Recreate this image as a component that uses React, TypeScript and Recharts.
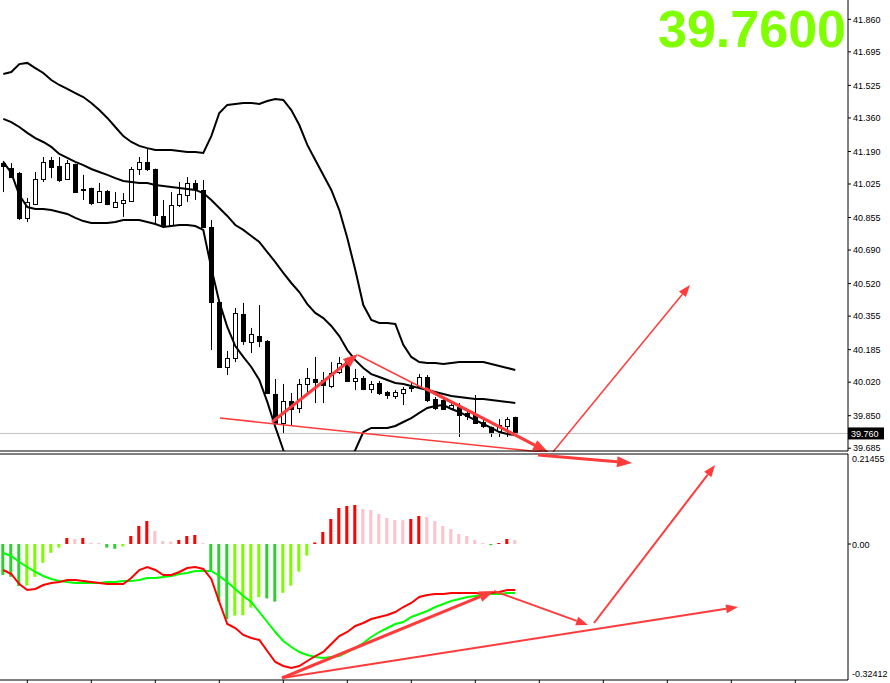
import { ComposedChart, Bar, Line, XAxis, YAxis, ReferenceLine, Cell } from 'recharts';

// candles, oldest first
const candleOpen = [
  41.131, 41.106, 41.081, 40.853, 40.924, 41.050, 41.147, 41.116, 41.050, 41.126,
  41.000, 41.005, 40.934, 40.989, 40.908, 40.929, 40.939, 41.101, 41.137, 41.101,
  40.863, 40.817, 40.918, 40.969, 41.030, 40.995, 40.807, 40.427, 40.097, 40.143,
  40.366, 40.224, 40.254, 40.229, 39.960, 39.813, 39.925, 39.889, 40.011, 40.036,
  40.031, 40.001, 40.072, 40.127, 40.026, 40.041, 39.985, 40.016, 39.970, 39.950,
  39.965, 39.996, 40.001, 40.046, 39.935, 39.930, 39.889, 39.894, 39.864, 39.859,
  39.818, 39.793, 39.772, 39.798, 39.843,
];
const candleHigh = [
  41.142, 41.131, 41.086, 40.954, 41.086, 41.162, 41.162, 41.162, 41.147, 41.128,
  41.071, 41.007, 41.030, 40.995, 40.984, 40.979, 41.111, 41.162, 41.202, 41.103,
  40.944, 40.984, 41.035, 41.060, 41.045, 41.045, 40.842, 40.432, 40.178, 40.396,
  40.422, 40.295, 40.411, 40.234, 40.036, 40.011, 39.965, 40.036, 40.092, 40.148,
  40.072, 40.122, 40.148, 40.143, 40.087, 40.051, 40.026, 40.026, 39.975, 39.980,
  39.996, 40.021, 40.061, 40.056, 39.945, 39.940, 39.914, 39.914, 39.879, 39.955,
  39.828, 39.795, 39.833, 39.843, 39.845,
];
const candleLow = [
  40.984, 41.055, 40.842, 40.832, 40.918, 41.035, 41.055, 41.035, 41.045, 40.982,
  40.944, 40.918, 40.929, 40.918, 40.903, 40.858, 40.934, 41.071, 41.091, 40.817,
  40.802, 40.807, 40.908, 40.934, 40.944, 40.802, 40.183, 40.092, 40.056, 40.122,
  40.209, 40.168, 40.198, 39.960, 39.803, 39.762, 39.803, 39.864, 39.965, 39.914,
  39.914, 39.990, 40.061, 40.021, 39.980, 39.980, 39.965, 39.955, 39.935, 39.935,
  39.904, 39.970, 39.990, 39.919, 39.879, 39.879, 39.879, 39.742, 39.828, 39.810,
  39.788, 39.742, 39.742, 39.742, 39.752,
];
const candleClose = [
  41.116, 41.060, 40.853, 40.934, 41.050, 41.137, 41.111, 41.045, 41.131, 40.984,
  40.995, 40.929, 40.989, 40.924, 40.934, 40.944, 41.101, 41.137, 41.101, 40.868,
  40.817, 40.918, 40.974, 41.030, 41.000, 40.807, 40.427, 40.097, 40.143, 40.371,
  40.229, 40.264, 40.229, 39.965, 39.813, 39.925, 39.884, 40.011, 40.041, 40.021,
  40.006, 40.066, 40.117, 40.026, 40.041, 39.985, 40.011, 39.965, 39.955, 39.970,
  39.985, 39.990, 40.046, 39.930, 39.889, 39.884, 39.904, 39.854, 39.848, 39.813,
  39.798, 39.762, 39.803, 39.833, 39.760,
];

// bollinger bands
const bbUpper = [
  41.583, 41.593, 41.633, 41.639, 41.613, 41.588, 41.552, 41.527, 41.507, 41.486,
  41.466, 41.436, 41.400, 41.360, 41.314, 41.268, 41.238, 41.218, 41.207, 41.197,
  41.197, 41.197, 41.192, 41.187, 41.187, 41.182, 41.268, 41.385, 41.426, 41.431,
  41.436, 41.436, 41.431, 41.446, 41.456, 41.451, 41.400, 41.324, 41.223, 41.147,
  41.071, 40.995, 40.893, 40.751, 40.589, 40.411, 40.335, 40.320, 40.320, 40.315,
  40.209, 40.148, 40.122, 40.117, 40.117, 40.112, 40.117, 40.122, 40.122, 40.122,
  40.122, 40.112, 40.102, 40.092, 40.082,
];
const bbMiddle = [
  41.355, 41.339, 41.314, 41.284, 41.258, 41.238, 41.213, 41.177, 41.157, 41.137,
  41.121, 41.101, 41.086, 41.071, 41.055, 41.040, 41.035, 41.030, 41.030, 41.020,
  41.015, 41.010, 41.005, 41.000, 40.995, 40.979, 40.944, 40.903, 40.863, 40.817,
  40.792, 40.761, 40.731, 40.680, 40.629, 40.574, 40.523, 40.477, 40.416, 40.371,
  40.345, 40.305, 40.254, 40.183, 40.132, 40.092, 40.061, 40.046, 40.031, 40.016,
  40.011, 40.001, 39.990, 39.980, 39.970, 39.960, 39.950, 39.945, 39.940, 39.935,
  39.935, 39.930, 39.925, 39.920, 39.914,
];
const bbLower = [
  41.137, 41.081, 40.969, 40.908, 40.898, 40.898, 40.893, 40.883, 40.873, 40.853,
  40.837, 40.827, 40.827, 40.827, 40.832, 40.842, 40.842, 40.842, 40.832, 40.822,
  40.807, 40.812, 40.817, 40.817, 40.812, 40.792, 40.599, 40.427, 40.300, 40.203,
  40.148, 40.097, 40.031, 39.920, 39.793, 39.676, 39.575, 39.499, 39.463, 39.453,
  39.463, 39.499, 39.549, 39.615, 39.676, 39.767, 39.788, 39.788, 39.788, 39.798,
  39.818, 39.838, 39.864, 39.889, 39.899, 39.904, 39.884, 39.869, 39.848, 39.828,
  39.808, 39.788, 39.767, 39.757, 39.752,
];

// MACD window
const macdHist = [
  -0.0775, -0.082, -0.105, -0.104, -0.082, -0.047, -0.022, -0.009, 0.015, 0.0125,
  0.015, 0.003, 0.0025, -0.009, -0.012, -0.006, 0.02, 0.045, 0.0575, 0.0325,
  0.0075, 0.006, 0.01, 0.02, 0.0225, 0.002, -0.065, -0.144, -0.188, -0.179,
  -0.178, -0.159, -0.133, -0.136, -0.144, -0.122, -0.104, -0.069, -0.029, 0.004,
  0.03, 0.0625, 0.09, 0.095, 0.0975, 0.0875, 0.085, 0.075, 0.065, 0.06,
  0.0595, 0.0625, 0.07, 0.0675, 0.0575, 0.045, 0.0375, 0.025, 0.02, 0.01,
  0.0025, -0.003, 0.0025, 0.0125, 0.01,
];
const macdMain = [
  -0.065, -0.075, -0.10, -0.115, -0.1125, -0.1025, -0.0975, -0.095, -0.09, -0.09,
  -0.0925, -0.095, -0.0975, -0.10, -0.10, -0.10, -0.085, -0.065, -0.0575, -0.065,
  -0.0775, -0.0775, -0.07, -0.06, -0.0575, -0.0625, -0.0875, -0.145, -0.20, -0.21,
  -0.2275, -0.235, -0.24, -0.2675, -0.295, -0.305, -0.31, -0.305, -0.2925, -0.28,
  -0.27, -0.25, -0.23, -0.22, -0.205, -0.1975, -0.1875, -0.1825, -0.1775, -0.17,
  -0.1575, -0.1475, -0.1325, -0.1275, -0.125, -0.125, -0.1225, -0.1225, -0.1225, -0.1225,
  -0.125, -0.1225, -0.12, -0.115, -0.115,
];
const macdSignal = [
  -0.0225, -0.03, -0.045, -0.0575, -0.07, -0.08, -0.0875, -0.0925, -0.095, -0.0975,
  -0.0975, -0.0975, -0.0975, -0.095, -0.095, -0.0925, -0.0925, -0.09, -0.085, -0.085,
  -0.0825, -0.08, -0.075, -0.0725, -0.0675, -0.0675, -0.0675, -0.08, -0.095, -0.1125,
  -0.13, -0.145, -0.17, -0.195, -0.22, -0.2425, -0.2575, -0.27, -0.2775, -0.2825,
  -0.285, -0.2825, -0.28, -0.27, -0.26, -0.2475, -0.2325, -0.22, -0.21, -0.20,
  -0.195, -0.1825, -0.175, -0.1675, -0.1575, -0.15, -0.1425, -0.1375, -0.1325, -0.13,
  -0.1275, -0.125, -0.125, -0.1225, -0.1225,
];

const priceTicks = [41.86, 41.695, 41.525, 41.36, 41.19, 41.025, 40.855, 40.69, 40.52, 40.355, 40.185, 40.02, 39.85, 39.685];
const macdTicks = [0.21455, 0, -0.32412];
const timeTicks = [3, 11, 19, 27, 35, 43, 51, 59, 67, 75, 83, 91, 99];
const lastPrice = 39.76;
const bigLabel = '39.7600';

// hand drawn trend lines: [x1, y1, x2, y2, width, arrowhead]
const priceArrows: [number, number, number, number, number, boolean][] = [
  [27.09, 39.838, 68.34, 39.661, 1.5, false],
  [33.59, 39.818, 44.34, 40.163, 3, true],
  [44.34, 40.158, 68.09, 39.666, 1.5, false],
  [52.71, 39.99, 68.09, 39.666, 3, true],
  [68.71, 39.666, 85.84, 40.513, 1.5, true],
];
const macdArrows: [number, number, number, number, number, boolean][] = [
  [66.84, 0.2225, 78.59, 0.2025, 3, true],
  [34.84, -0.335, 61.34, -0.1175, 3, true],
  [34.84, -0.335, 91.84, -0.1575, 2, true],
  [61.34, -0.1175, 73.09, -0.2025, 2, true],
  [73.84, -0.1975, 88.97, 0.1975, 2, true],
];

const X_DOMAIN = [-0.4125, 105.5875];
const ARROW = '#ff3b3b';
const FONT = '"Liberation Sans", Arial, sans-serif';

const priceData = candleOpen.map((o, i) => ({
  i,
  open: o,
  high: candleHigh[i],
  low: candleLow[i],
  close: candleClose[i],
  upper: bbUpper[i],
  middle: bbMiddle[i],
  lower: bbLower[i],
}));

const macdData = macdHist.map((h, i) => ({ i, hist: h, main: macdMain[i], signal: macdSignal[i] }));

function histColor(i: number) {
  const v = macdHist[i];
  const prev = i > 0 ? macdHist[i - 1] : Infinity;
  if (v >= 0) return v >= prev ? '#ff0000' : '#ffc0cb';
  return v < prev ? '#32cd32' : '#7cfc00';
}

const Candle = (props: any) => {
  const { x, y, width, height, payload } = props;
  const top0 = Math.min(y, y + height);
  const h = Math.abs(height);
  const span = payload.high - payload.low || 1;
  const py = (v: number) => top0 + ((payload.high - v) / span) * h;
  const cx = Math.round(x + width / 2) + 0.5;
  const bTop = Math.round(py(Math.max(payload.open, payload.close))) + 0.5;
  const bBot = Math.round(py(Math.min(payload.open, payload.close))) + 0.5;
  const up = payload.close >= payload.open;
  return (
    <g>
      <line x1={cx} x2={cx} y1={top0} y2={top0 + h} stroke="#000" strokeWidth={1} />
      <rect x={cx - 2} y={bTop} width={4} height={Math.max(bBot - bTop, 1)} fill={up ? '#fff' : '#000'} stroke="#000" strokeWidth={1} />
    </g>
  );
};

const arrowShape = (w: number, head: boolean) => (p: any) => {
  const x1 = Number(p.x1), y1 = Number(p.y1), x2 = Number(p.x2), y2 = Number(p.y2);
  const len = Math.hypot(x2 - x1, y2 - y1) || 1;
  const ux = (x2 - x1) / len;
  const uy = (y2 - y1) / len;
  const hl = w > 2 ? 15 : 12;
  const hw = w > 2 ? 5.5 : 4.5;
  const bx = x2 - ux * hl;
  const by = y2 - uy * hl;
  return (
    <g>
      <line x1={x1} y1={y1} x2={head ? bx : x2} y2={head ? by : y2} stroke={ARROW} strokeWidth={w} />
      {head && (
        <polygon
          points={`${x2},${y2} ${bx - uy * hw},${by + ux * hw} ${bx + uy * hw},${by - ux * hw}`}
          fill={ARROW}
        />
      )}
    </g>
  );
};

const LastPriceLabel = (p: any) => {
  const vb = p.viewBox;
  const right = vb.x + vb.width;
  return (
    <g>
      <rect x={right} y={vb.y - 6} width={36} height={12} fill="#000" />
      <text x={right + 3} y={vb.y + 3.5} fill="#fff" fontSize={9} fontFamily={FONT}>
        {lastPrice.toFixed(3)}
      </text>
    </g>
  );
};

const MacdTick = (p: any) => {
  const v = p.payload.value;
  return (
    <g>
      {v === 0 && <line x1={p.x - 5} x2={p.x - 2} y1={p.y} y2={p.y} stroke="#000" />}
      <text x={p.x - 1} y={p.y + 3.5} fontSize={9} fontFamily={FONT} fill="#000">
        {v === 0 ? '0.00' : v.toFixed(5)}
      </text>
    </g>
  );
};

export default function App() {
  return (
    <div style={{ position: 'absolute', left: 0, top: 0, width: 890, height: 683, background: '#fff', overflow: 'hidden' }}>
      <ComposedChart width={890} height={452} data={priceData} margin={{ top: 0, right: 0, left: 0, bottom: 0 }}>
        <XAxis dataKey="i" type="number" domain={X_DOMAIN} height={1} tick={false} tickLine={false} axisLine={{ stroke: '#000' }} />
        <YAxis
          orientation="right"
          type="number"
          domain={[39.671, 41.958]}
          allowDataOverflow
          ticks={priceTicks}
          interval={0}
          width={42}
          tickSize={3}
          tickMargin={2}
          tickFormatter={(v: number) => v.toFixed(3)}
          tick={{ fontSize: 9, fill: '#000', fontFamily: FONT }}
          tickLine={{ stroke: '#000' }}
          axisLine={{ stroke: '#000' }}
        />
        <ReferenceLine y={lastPrice} stroke="#c0c0c0" strokeWidth={1} label={LastPriceLabel} />
        <Bar dataKey={(d: any) => [d.low, d.high]} barSize={5} shape={Candle} isAnimationActive={false} />
        <Line dataKey="upper" type="linear" stroke="#000" strokeWidth={2} dot={false} activeDot={false} isAnimationActive={false} />
        <Line dataKey="middle" type="linear" stroke="#000" strokeWidth={2} dot={false} activeDot={false} isAnimationActive={false} />
        <Line dataKey="lower" type="linear" stroke="#000" strokeWidth={2} dot={false} activeDot={false} isAnimationActive={false} />
        {priceArrows.map((a, k) => (
          <ReferenceLine
            key={`pa-${k}`}
            segment={[{ x: a[0], y: a[1] }, { x: a[2], y: a[3] }]}
            ifOverflow="visible"
            shape={arrowShape(a[4], a[5])}
          />
        ))}
      </ComposedChart>

      <div style={{ position: 'absolute', top: 452, left: 0 }}>
        <ComposedChart width={890} height={231} data={macdData} margin={{ top: 2, right: 0, left: 0, bottom: 0 }}>
          <XAxis
            dataKey="i"
            type="number"
            domain={X_DOMAIN}
            ticks={timeTicks}
            interval={0}
            height={3}
            tickSize={3}
            tick={() => <g />}
            tickLine={{ stroke: '#000' }}
            axisLine={{ stroke: '#000' }}
          />
          <YAxis
            orientation="right"
            type="number"
            domain={[-0.34, 0.225]}
            allowDataOverflow
            ticks={macdTicks}
            interval={0}
            width={42}
            tickSize={3}
            tickMargin={2}
            tick={MacdTick}
            tickLine={false}
            axisLine={{ stroke: '#000' }}
          />
          <ReferenceLine y={0.225} stroke="#000" strokeWidth={1} />
          <Bar dataKey="hist" barSize={3} isAnimationActive={false}>
            {macdData.map((d) => (
              <Cell key={d.i} fill={histColor(d.i)} />
            ))}
          </Bar>
          <Line dataKey="signal" type="linear" stroke="#00ff00" strokeWidth={2} dot={false} activeDot={false} isAnimationActive={false} />
          <Line dataKey="main" type="linear" stroke="#ff0000" strokeWidth={2} dot={false} activeDot={false} isAnimationActive={false} />
          {macdArrows.map((a, k) => (
            <ReferenceLine
              key={`ma-${k}`}
              segment={[{ x: a[0], y: a[1] }, { x: a[2], y: a[3] }]}
              ifOverflow="visible"
              shape={arrowShape(a[4], a[5])}
            />
          ))}
        </ComposedChart>
      </div>

      <div
        style={{
          position: 'absolute',
          right: 44,
          top: 3,
          fontFamily: FONT,
          fontWeight: 'bold',
          fontSize: 52,
          lineHeight: 1,
          color: '#7fff00',
        }}
      >
        {bigLabel}
      </div>
    </div>
  );
}
